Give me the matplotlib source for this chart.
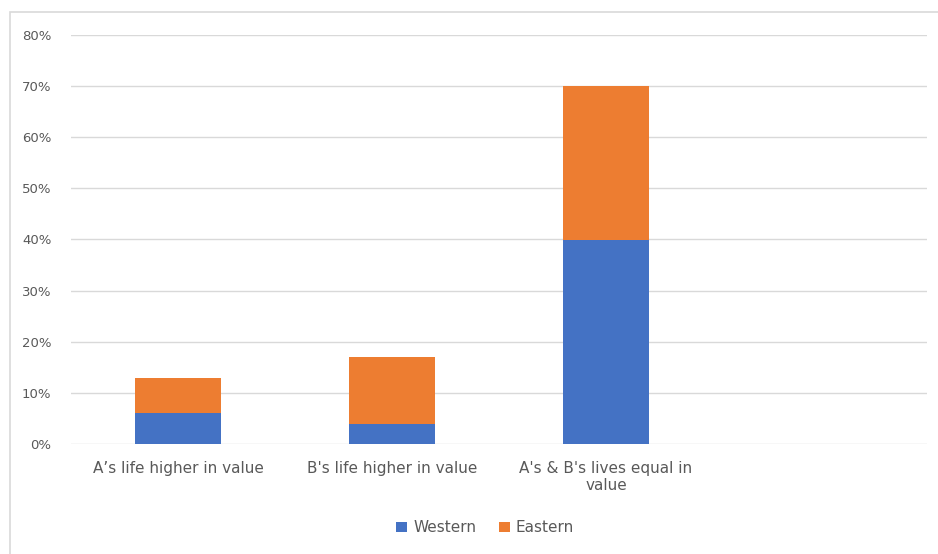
import numpy as np
import matplotlib
matplotlib.use('Agg')
import matplotlib.pyplot as plt
from matplotlib.patches import Rectangle
from matplotlib.ticker import FuncFormatter

# categories (the fourth slot is empty in the original chart)
categories = ["A\u2019s life higher in value", "B's life higher in value",
              "A's & B's lives equal in\nvalue", ""]
western = [6, 4, 40, np.nan]
eastern = [7, 13, 30, np.nan]

blue = '#4472C4'
orange = '#ED7D31'
gray = '#595959'

fig = plt.figure(figsize=(9.38, 5.54), dpi=100)
# outer chart border (runs off the right and bottom edges in the original)
fig.patches.append(Rectangle((10 / 938, -10 / 554), 940 / 938, 552 / 554,
                             transform=fig.transFigure, fill=False,
                             edgecolor='#D9D9D9', linewidth=1.2))

ax = fig.add_axes([71 / 938, 110 / 554, 856 / 938, 409 / 554])
x = np.arange(len(categories))
ax.bar(x, western, width=0.40, color=blue, label='Western', zorder=3)
ax.bar(x, eastern, width=0.40, bottom=western, color=orange, label='Eastern', zorder=3)

ax.set_xlim(-0.5, len(categories) - 0.5)
ax.set_ylim(0, 80)
ax.set_yticks(np.arange(0, 81, 10))
ax.yaxis.set_major_formatter(FuncFormatter(lambda v, p: f'{int(v)}%'))
ax.set_xticks(x)
ax.set_xticklabels(categories, fontsize=11, color=gray)
ax.tick_params(axis='y', labelsize=9.5, colors=gray, length=0, pad=14)
ax.tick_params(axis='x', length=0, pad=12)
ax.grid(axis='y', color='#D9D9D9', linewidth=1, zorder=0)
for s in ax.spines.values():
    s.set_visible(False)

ax.legend(loc='center', bbox_to_anchor=(0.484, -0.205), ncol=2, frameon=False,
          fontsize=11, labelcolor=gray, handlelength=0.7, handleheight=0.7,
          handletextpad=0.4, columnspacing=1.5)

fig.savefig('out.png', dpi=100)
